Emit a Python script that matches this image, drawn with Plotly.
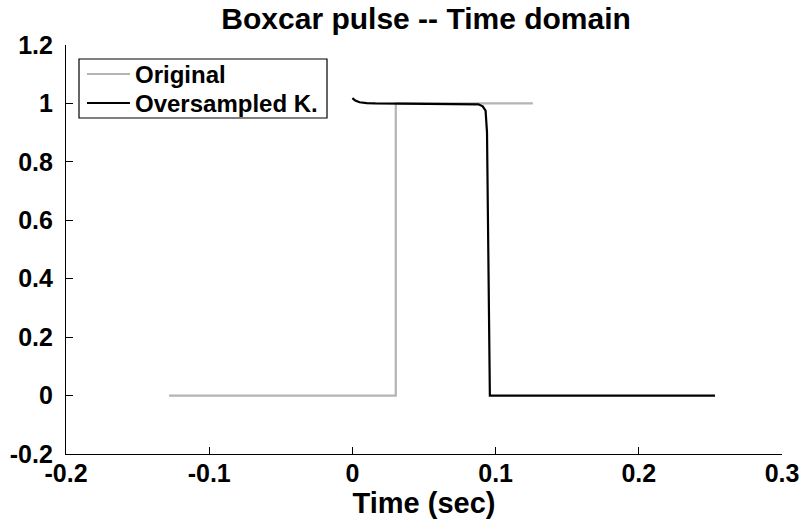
import plotly.graph_objects as go

# Data
orig_t = [-0.128, 0.0303, 0.0303, 0.126]
orig_y = [0.0, 0.0, 1.0, 1.0]

over_t = [0.0, 0.002, 0.005, 0.010, 0.016, 0.080, 0.088, 0.091, 0.0930, 0.0940, 0.0950, 0.0956, 0.0960, 0.150, 0.2532]
over_y = [1.018, 1.010, 1.004, 1.001, 1.000, 0.999, 0.997, 0.990, 0.975, 0.90, 0.40, 0.01, 0.0, 0.0, 0.0]

series_names = ["Original", "Oversampled K."]
series_colors = ["#b4b4b4", "#000000"]

x_ticks = [-0.2, -0.1, 0.0, 0.1, 0.2, 0.3]
x_tick_labels = ["-0.2", "-0.1", "0", "0.1", "0.2", "0.3"]
y_ticks = [-0.2, 0.0, 0.2, 0.4, 0.6, 0.8, 1.0, 1.2]
y_tick_labels = ["-0.2", "0", "0.2", "0.4", "0.6", "0.8", "1", "1.2"]

FONT = "Liberation Sans, Arial, Helvetica, sans-serif"
W, H = 801, 524
ML, MR, MT, MB = 66, 19, 45, 70
PW, PH = W - ML - MR, H - MT - MB


def px_x(px):
    return (px - ML) / PW


def px_y(py):
    return (H - MB - py) / PH


fig = go.Figure()
fig.add_trace(go.Scatter(x=orig_t, y=orig_y, mode="lines", name=series_names[0],
                         line=dict(color=series_colors[0], width=2.2), showlegend=False))
fig.add_trace(go.Scatter(x=over_t, y=over_y, mode="lines", name=series_names[1],
                         line=dict(color=series_colors[1], width=2.2), showlegend=False))

axis_common = dict(showgrid=False, zeroline=False, showline=True, linecolor="black",
                   linewidth=1.2, ticks="inside", ticklen=7, tickcolor="black",
                   tickwidth=1.2, mirror=False, automargin=False,
                   tickfont=dict(family=FONT, size=25, color="black", weight="bold"))

fig.update_xaxes(range=[-0.2, 0.3], tickvals=x_ticks, ticktext=x_tick_labels,
                 ticklabelstandoff=-3,
                 title=dict(text="Time (sec)", standoff=4,
                            font=dict(family=FONT, size=29, color="black", weight="bold")),
                 **axis_common)
fig.update_yaxes(range=[-0.2, 1.2], tickvals=y_ticks, ticktext=y_tick_labels,
                 ticklabelstandoff=7, **axis_common)

# Legend box (drawn in the style of the reference)
shapes = [dict(type="rect", xref="paper", yref="paper",
               x0=px_x(79), x1=px_x(327), y0=px_y(118), y1=px_y(59),
               line=dict(color="black", width=1.2), fillcolor="white", layer="above")]
annotations = []
for i, (name, col) in enumerate(zip(series_names, series_colors)):
    yy = px_y(74 + i * 29)
    shapes.append(dict(type="line", xref="paper", yref="paper",
                       x0=px_x(87), x1=px_x(130), y0=yy, y1=yy,
                       line=dict(color=col, width=2.2), layer="above"))
    annotations.append(dict(text=name, xref="paper", yref="paper", x=px_x(133), y=yy,
                            xanchor="left", yanchor="middle", showarrow=False,
                            font=dict(family=FONT, size=24, color="black", weight="bold")))

fig.update_layout(
    width=W, height=H,
    margin=dict(l=ML, r=MR, t=MT, b=MB),
    paper_bgcolor="white", plot_bgcolor="white",
    title=dict(text="Boxcar pulse -- Time domain", x=0.532, xanchor="center",
               y=0.965, yanchor="middle",
               font=dict(family=FONT, size=30, color="black", weight="bold")),
    shapes=shapes, annotations=annotations,
    showlegend=False,
)

fig.write_html("out.html")
